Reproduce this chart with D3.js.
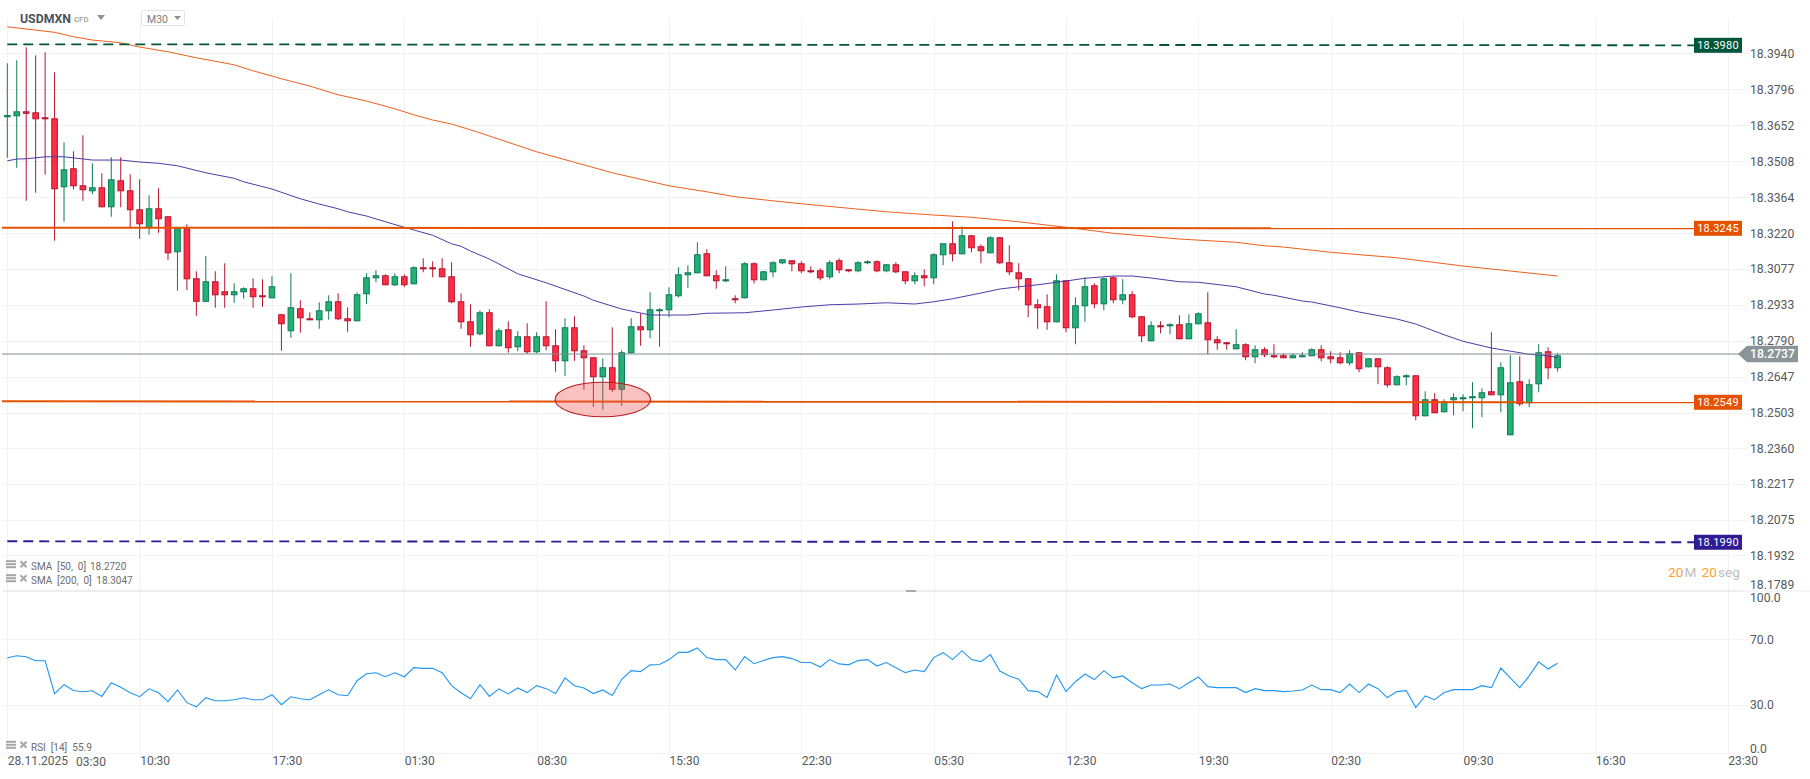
<!DOCTYPE html>
<html>
<head>
<meta charset="utf-8">
<script src="https://cdn.jsdelivr.net/npm/d3@7"></script>
<style>
  html, body { margin: 0; padding: 0; background: #fff; overflow: hidden; }
  text { font-family: Roboto, sans-serif; }
</style>
</head>
<body>
<div id="chart"></div>
<script>
// candles, M30, one entry per bar
const opens = [18.3684,18.3688,18.3708,18.3704,18.3684,18.3680,18.3404,18.3480,18.3412,18.3388,
18.3404,18.3324,18.3432,18.3392,18.3316,18.3240,18.3320,18.3288,18.3144,18.3240,
18.3040,18.2946,18.3028,18.2988,18.2972,18.2984,18.3000,18.2972,18.2960,18.2896,
18.2828,18.2920,18.2880,18.2872,18.2908,18.2948,18.2880,18.2868,18.2976,18.3040,
18.3052,18.3012,18.3048,18.3016,18.3084,18.3084,18.3080,18.3048,18.2948,18.2868,
18.2816,18.2904,18.2768,18.2836,18.2764,18.2808,18.2744,18.2808,18.2772,18.2708,
18.2844,18.2752,18.2724,18.2644,18.2684,18.2594,18.2740,18.2848,18.2832,18.2908,
18.2912,18.2968,18.3052,18.3060,18.3140,18.3052,18.3028,18.2960,18.2960,18.3100,
18.3032,18.3064,18.3100,18.3112,18.3100,18.3072,18.3072,18.3044,18.3112,18.3076,
18.3068,18.3100,18.3108,18.3068,18.3096,18.3068,18.3028,18.3052,18.3040,18.3132,
18.3180,18.3136,18.3212,18.3168,18.3140,18.3204,18.3104,18.3064,18.3040,18.2936,
18.2928,18.2864,18.3032,18.2840,18.2928,18.3012,18.2936,18.3044,18.2952,18.2976,
18.2888,18.2788,18.2852,18.2848,18.2856,18.2796,18.2856,18.2864,18.2796,18.2784,
18.2756,18.2776,18.2724,18.2756,18.2732,18.2732,18.2720,18.2724,18.2728,18.2756,
18.2728,18.2724,18.2700,18.2744,18.2684,18.2720,18.2684,18.2612,18.2644,18.2652,
18.2488,18.2556,18.2504,18.2552,18.2556,18.2560,18.2560,18.2588,18.2572,18.2412,
18.2628,18.2540,18.2616,18.2748,18.2680];
const closes = [18.3693,18.3708,18.3698,18.3676,18.3676,18.3396,18.3476,18.3408,18.3392,18.3404,
18.3324,18.3436,18.3388,18.3312,18.3256,18.3320,18.3276,18.3140,18.3240,18.3036,
18.2946,18.3028,18.2972,18.2972,18.2988,18.3000,18.2964,18.2964,18.3008,18.2856,
18.2924,18.2880,18.2872,18.2912,18.2948,18.2876,18.2868,18.2976,18.3044,18.3052,
18.3012,18.3048,18.3012,18.3084,18.3076,18.3076,18.3044,18.2944,18.2864,18.2812,
18.2904,18.2768,18.2832,18.2760,18.2808,18.2744,18.2808,18.2768,18.2708,18.2844,
18.2748,18.2720,18.2644,18.2684,18.2594,18.2744,18.2848,18.2832,18.2916,18.2916,
18.2976,18.3056,18.3064,18.3136,18.3048,18.3028,18.3036,18.2952,18.3100,18.3032,
18.3068,18.3104,18.3116,18.3096,18.3068,18.3064,18.3040,18.3104,18.3072,18.3068,
18.3104,18.3108,18.3068,18.3096,18.3064,18.3028,18.3052,18.3040,18.3136,18.3180,
18.3136,18.3212,18.3160,18.3148,18.3204,18.3100,18.3064,18.3036,18.2932,18.2920,
18.2864,18.3032,18.2840,18.2932,18.3008,18.2936,18.3040,18.2952,18.2976,18.2884,
18.2808,18.2852,18.2844,18.2856,18.2796,18.2860,18.2900,18.2792,18.2780,18.2776,
18.2776,18.2724,18.2756,18.2732,18.2726,18.2720,18.2732,18.2732,18.2756,18.2720,
18.2716,18.2700,18.2740,18.2676,18.2720,18.2684,18.2612,18.2648,18.2652,18.2488,
18.2556,18.2500,18.2548,18.2564,18.2564,18.2568,18.2584,18.2572,18.2684,18.2624,
18.2536,18.2616,18.2744,18.2680,18.2732];
const highs = [18.3900,18.3912,18.3964,18.3932,18.3944,18.3864,18.3584,18.3548,18.3612,18.3500,
18.3460,18.3524,18.3524,18.3456,18.3436,18.3372,18.3400,18.3288,18.3240,18.3256,
18.3068,18.3129,18.3068,18.3100,18.3020,18.3004,18.3040,18.3036,18.3048,18.2896,
18.3060,18.2952,18.2904,18.2944,18.2972,18.2980,18.2924,18.2984,18.3060,18.3072,
18.3056,18.3060,18.3056,18.3088,18.3120,18.3108,18.3120,18.3104,18.2980,18.2936,
18.2912,18.2916,18.2840,18.2868,18.2828,18.2860,18.2824,18.2948,18.2836,18.2880,
18.2888,18.2772,18.2724,18.2720,18.2844,18.2752,18.2880,18.2900,18.2984,18.2920,
18.3004,18.3084,18.3092,18.3184,18.3156,18.3072,18.3088,18.2972,18.3104,18.3104,
18.3068,18.3108,18.3116,18.3112,18.3108,18.3088,18.3080,18.3112,18.3120,18.3076,
18.3108,18.3112,18.3112,18.3096,18.3104,18.3068,18.3064,18.3076,18.3140,18.3180,
18.3268,18.3248,18.3212,18.3176,18.3208,18.3204,18.3172,18.3100,18.3040,18.2956,
18.2976,18.3056,18.3032,18.2964,18.3044,18.3020,18.3044,18.3048,18.3036,18.2988,
18.2888,18.2868,18.2868,18.2860,18.2892,18.2896,18.2904,18.2984,18.2808,18.2784,
18.2836,18.2780,18.2772,18.2764,18.2776,18.2740,18.2740,18.2744,18.2760,18.2772,
18.2748,18.2744,18.2752,18.2744,18.2720,18.2720,18.2688,18.2652,18.2656,18.2652,
18.2588,18.2580,18.2556,18.2580,18.2576,18.2624,18.2600,18.2824,18.2704,18.2732,
18.2728,18.2636,18.2776,18.2764,18.2740];
const lows = [18.3522,18.3482,18.3350,18.3382,18.3454,18.3190,18.3266,18.3396,18.3350,18.3376,
18.3324,18.3286,18.3324,18.3240,18.3198,18.3214,18.3222,18.3113,18.2990,18.2993,
18.2890,18.2946,18.2922,18.2922,18.2942,18.2958,18.2922,18.2926,18.2960,18.2750,
18.2802,18.2822,18.2872,18.2838,18.2874,18.2872,18.2826,18.2868,18.2938,18.3024,
18.3012,18.3008,18.3004,18.3016,18.3064,18.3044,18.3044,18.2940,18.2838,18.2766,
18.2812,18.2768,18.2768,18.2742,18.2748,18.2738,18.2740,18.2752,18.2666,18.2650,
18.2710,18.2594,18.2526,18.2514,18.2586,18.2530,18.2740,18.2770,18.2800,18.2766,
18.2884,18.2964,18.3002,18.3060,18.3048,18.2998,18.3024,18.2940,18.2960,18.3020,
18.3032,18.3044,18.3096,18.3068,18.3060,18.3060,18.3032,18.3036,18.3060,18.3064,
18.3064,18.3096,18.3064,18.3064,18.3060,18.3016,18.3016,18.3008,18.3016,18.3092,
18.3108,18.3136,18.3144,18.3100,18.3140,18.3096,18.3052,18.2992,18.2884,18.2838,
18.2834,18.2864,18.2824,18.2776,18.2866,18.2920,18.2912,18.2940,18.2936,18.2880,
18.2784,18.2788,18.2820,18.2816,18.2796,18.2796,18.2856,18.2736,18.2754,18.2754,
18.2756,18.2712,18.2700,18.2724,18.2720,18.2720,18.2720,18.2724,18.2728,18.2708,
18.2700,18.2696,18.2692,18.2664,18.2684,18.2616,18.2604,18.2612,18.2612,18.2472,
18.2488,18.2500,18.2504,18.2492,18.2508,18.2440,18.2484,18.2572,18.2504,18.2412,
18.2528,18.2524,18.2584,18.2636,18.2666];

// moving averages, read at the bars where the line bends
const sma50Bars = [0,1,2,4,6,9,12,14,16,18,21,24,25,28,31,33,35,36,38,40,42,45,47,48,49,51,54,57,61,62,65,68,72,74,78,81,84,87,90,93,96,98,100,103,105,107,109,112,114,117,119,121,124,126,130,133,134,137,138,141,143,147,149,152,154,157,161,163,164];
const sma50Values = [18.3510,18.3517,18.3518,18.3526,18.3526,18.3513,18.3513,18.3505,18.3500,18.3490,18.3462,18.3440,18.3426,18.3397,18.3358,18.3337,18.3318,18.3306,18.3289,18.3266,18.3244,18.3212,18.3178,18.3168,18.3149,18.3117,18.3058,18.3022,18.2969,18.2952,18.2917,18.2893,18.2893,18.2900,18.2902,18.2913,18.2925,18.2934,18.2937,18.2942,18.2937,18.2946,18.2958,18.2981,18.2997,18.3006,18.3014,18.3029,18.3040,18.3049,18.3049,18.3041,18.3026,18.3024,18.3006,18.2977,18.2972,18.2949,18.2945,18.2922,18.2905,18.2877,18.2857,18.2814,18.2788,18.2761,18.2736,18.2730,18.2722];
const sma200Bars = [0,5,7,9,12,14,17,20,24,26,28,29,32,35,38,41,43,45,47,50,51,56,60,64,70,74,77,84,93,98,102,107,112,117,124,130,133,135,140,147,154,164];
const sma200Values = [18.4046,18.4024,18.4006,18.3993,18.3982,18.3965,18.3946,18.3922,18.3894,18.3870,18.3849,18.3838,18.3809,18.3774,18.3749,18.3718,18.3694,18.3673,18.3657,18.3622,18.3609,18.3546,18.3504,18.3462,18.3410,18.3386,18.3366,18.3338,18.3306,18.3293,18.3284,18.3266,18.3244,18.3220,18.3197,18.3184,18.3170,18.3165,18.3144,18.3122,18.3089,18.3049];

const rsiValues = [58.8,60.0,59.4,57.0,57.0,37.0,42.5,39.0,38.2,38.8,35.4,43.7,40.9,37.6,35.2,40.0,37.6,32.2,39.4,31.6,
29.1,34.6,32.8,32.8,33.4,34.6,33.4,33.4,36.4,30.4,35.2,34.0,33.4,36.4,39.4,36.4,35.8,44.9,49.1,49.7,
47.3,49.7,47.3,52.8,52.4,52.4,49.7,41.9,37.6,34.0,42.5,35.4,40.0,36.9,40.5,37.7,41.9,40.1,37.1,46.6,
41.9,40.5,37.1,39.3,35.9,45.8,51.0,50.4,54.5,54.7,57.7,62.1,62.1,64.8,58.9,57.7,57.7,51.4,59.5,55.2,
57.1,58.9,59.5,58.3,55.9,55.9,53.2,57.7,55.1,54.5,57.1,57.7,53.8,55.9,52.8,49.8,51.4,50.4,58.9,61.9,
57.7,63.1,57.7,56.5,60.7,50.8,47.8,45.8,38.9,38.3,34.7,48.4,38.3,44.3,49.0,45.6,51.0,46.6,47.8,43.7,
40.1,42.3,42.3,42.9,40.1,43.7,47.2,41.3,40.7,40.7,40.7,37.7,40.1,38.9,38.9,38.3,38.7,39.3,42.3,39.5,
39.5,37.7,42.9,37.7,42.9,40.1,34.7,38.3,38.9,28.6,35.7,33.4,37.7,39.5,39.5,39.5,41.9,40.7,52.6,46.6,
40.7,47.8,56.3,52.0,55.5];

// axes
const priceTicks = [18.3940,18.3796,18.3652,18.3508,18.3364,18.3220,18.3077,18.2933,18.2790,18.2647,18.2503,18.2360,18.2217,18.2075,18.1932,18.1789];
const rsiTicks = [70,30];
const rsiTickLabels = [100,70,30,0];
const timeBars = [0,14,28,42,56,70,84,98,112,126,140,154,168,182];
const timeLabels = ["28.11.2025","10:30","17:30","01:30","08:30","15:30","22:30","05:30","12:30","19:30","02:30","09:30","16:30","23:30"];

// drawn levels: [start price, end price, tag]
const levelNames = ["tp","upper","lower","sl"];
const levelStart = [18.3976,18.3242,18.2548,18.1988];
const levelEnd = [18.3972,18.3240,18.2544,18.1984];
const levelTags = ["18.3980","18.3245","18.2549","18.1990"];
const levelColors = ["#00563b","#e65100","#e65100","#311b92"];
const levelDash = ["10 6",null,null,"10 6"];
const lastPrice = 18.2737;

const width = 1810, height = 779;
const plotRight = 1748, plotLeft = 2, plotTop = 18, plotBottom = 753.3, tagLeft = 1694;

const svg = d3.select("#chart").append("svg")
  .attr("width", width).attr("height", height)
  .style("display", "block");

const x = d3.scaleLinear().domain([0, 182]).range([7.3, 1727.7]);
const y = d3.scaleLinear().domain([18.3940, 18.1789]).range([53.3, 591]);
const yRsi = d3.scaleLinear().domain([0, 100]).range([754.8, 589.8]);

const gridColor = "#f2f2f2", textColor = "#555b60";

// grid
const gridG = svg.append("g");
gridG.append("g")
  .attr("transform", `translate(${plotRight},0)`)
  .call(d3.axisLeft(y).tickValues(priceTicks.slice(0, -1)).tickSize(plotRight - plotLeft).tickFormat(""))
  .call(g => g.select(".domain").remove());
gridG.append("g")
  .attr("transform", `translate(${plotRight},0)`)
  .call(d3.axisLeft(yRsi).tickValues(rsiTicks).tickSize(plotRight - plotLeft).tickFormat(""))
  .call(g => g.select(".domain").remove());
gridG.append("g")
  .attr("transform", `translate(0,${plotBottom})`)
  .call(d3.axisTop(x).tickValues(timeBars).tickSize(plotBottom - plotTop).tickFormat(""))
  .call(g => g.select(".domain").remove());
gridG.selectAll("line").attr("stroke", gridColor).attr("stroke-width", 1).attr("shape-rendering", "crispEdges");
gridG.append("line").attr("x1", plotLeft).attr("x2", plotRight).attr("y1", plotBottom).attr("y2", plotBottom)
  .attr("stroke", gridColor);

// panel divider
svg.append("line").attr("x1", 3).attr("x2", 1742).attr("y1", 591).attr("y2", 591).attr("stroke", "#dcdcdc").attr("stroke-width", 1.2);
svg.append("line").attr("x1", 1742).attr("x2", width).attr("y1", 591).attr("y2", 591).attr("stroke", "#ececec").attr("stroke-width", 1.2);
svg.append("rect").attr("x", 906).attr("y", 590).attr("width", 10).attr("height", 2).attr("fill", "#a9a9a9");

// candles
const upFill = "#23b074", upLine = "#0f7a58", downFill = "#fe2e44", downLine = "#b5152f";
const bars = d3.range(opens.length);
const candle = svg.append("g").selectAll("g").data(bars).enter().append("g");
candle.append("line")
  .attr("x1", i => x(i)).attr("x2", i => x(i))
  .attr("y1", i => y(highs[i])).attr("y2", i => y(lows[i]))
  .attr("stroke", i => closes[i] >= opens[i] ? upLine : downLine)
  .attr("stroke-width", 1);
candle.append("rect")
  .attr("x", i => x(i) - 2.8)
  .attr("width", 5.6)
  .attr("y", i => y(Math.max(opens[i], closes[i])) + 0.5)
  .attr("height", i => Math.max(1, Math.abs(y(opens[i]) - y(closes[i])) - 1))
  .attr("fill", i => closes[i] >= opens[i] ? upFill : downFill)
  .attr("stroke", i => closes[i] >= opens[i] ? upLine : downLine)
  .attr("stroke-width", 1);

// SMA lines
const smaLine = d3.line().x(d => x(d[0])).y(d => y(d[1]));
svg.append("path").datum(d3.zip(sma50Bars, sma50Values)).attr("d", smaLine)
  .attr("fill", "none").attr("stroke", "#4f3aa8").attr("stroke-width", 1);
svg.append("path").datum(d3.zip(sma200Bars, sma200Values)).attr("d", smaLine)
  .attr("fill", "none").attr("stroke", "#ef5f1c").attr("stroke-width", 1);

// last price line
svg.append("line").attr("x1", plotLeft).attr("x2", 1740).attr("y1", y(lastPrice)).attr("y2", y(lastPrice))
  .attr("stroke", "#7f8b92").attr("stroke-width", 1);

// drawn levels with their tags
levelNames.forEach((name, k) => {
  svg.append("line")
    .attr("x1", levelDash[k] ? x(0) : plotLeft).attr("x2", tagLeft)
    .attr("y1", y(levelStart[k])).attr("y2", y(levelEnd[k]))
    .attr("stroke", levelColors[k]).attr("stroke-width", levelDash[k] ? 1.8 : 2)
    .attr("stroke-dasharray", levelDash[k]);
  svg.append("rect").attr("x", tagLeft).attr("y", y(levelEnd[k]) - 7.5).attr("width", 48).attr("height", 15)
    .attr("fill", levelColors[k]);
  svg.append("text").attr("x", tagLeft + 24).attr("y", y(levelEnd[k]))
    .attr("dy", "0.34em").attr("text-anchor", "middle")
    .attr("fill", "#fff").attr("font-size", 11).attr("letter-spacing", 0.25)
    .text(levelTags[k]);
});

// the circled zone
const zoneBar = 63, zonePrice = 18.2555, zoneBars = 5.05, zoneRange = 0.0069;
svg.append("ellipse")
  .attr("cx", x(zoneBar)).attr("cy", y(zonePrice))
  .attr("rx", x(zoneBars) - x(0)).attr("ry", y(zonePrice - zoneRange) - y(zonePrice))
  .attr("fill", "#ef5350").attr("fill-opacity", 0.36)
  .attr("stroke", "#b71c1c").attr("stroke-width", 1.1);

// RSI
const rsiLine = d3.line().x((d, i) => x(i)).y(d => yRsi(d));
svg.append("path").datum(rsiValues).attr("d", rsiLine)
  .attr("fill", "none").attr("stroke", "#2196f3").attr("stroke-width", 1.1);

// price axis
const priceAxis = svg.append("g").attr("transform", `translate(1750,0)`)
  .call(d3.axisRight(y).tickValues(priceTicks).tickSize(0).tickPadding(0).tickFormat(d3.format(".4f")));
priceAxis.select(".domain").remove();
priceAxis.selectAll("text").attr("font-family", "Roboto, sans-serif").attr("font-size", 12.2).attr("fill", textColor);
// the lowest label is pushed up over the panel divider
priceAxis.selectAll(".tick").filter(d => d === 18.1789).select("text").attr("y", -6);

// last price tag
svg.append("path")
  .attr("d", d3.line()([[1738, y(lastPrice)], [1747, y(lastPrice) - 8.3], [1798, y(lastPrice) - 8.3], [1798, y(lastPrice) + 8.3], [1747, y(lastPrice) + 8.3]]) + "Z")
  .attr("fill", "#8b9599");
svg.append("text").attr("x", 1750).attr("y", y(lastPrice)).attr("dy", "0.35em")
  .attr("fill", "#fff").attr("font-size", 12.2).attr("font-weight", 500).text(lastPrice.toFixed(4));

// RSI axis labels (100 and 0 sit inside the panel)
const rsiLabelY = {100: 598, 70: 640, 30: 705, 0: 748.5};
svg.append("g").selectAll("text").data(rsiTickLabels).enter().append("text")
  .attr("x", 1750).attr("y", d => rsiLabelY[d]).attr("dy", "0.35em")
  .attr("font-size", 12.2).attr("fill", textColor)
  .text(d => d.toFixed(1));

// time axis
const timeAxis = svg.append("g").attr("transform", `translate(0,${plotBottom})`)
  .call(d3.axisBottom(x).tickValues(timeBars).tickSize(0).tickPadding(3).tickFormat((d, i) => timeLabels[i]));
timeAxis.select(".domain").remove();
timeAxis.selectAll("text").attr("text-anchor", "start").attr("font-family", "Roboto, sans-serif")
  .attr("font-size", 12).attr("fill", textColor);
svg.append("text").attr("x", 76).attr("y", 766).attr("font-size", 12).attr("fill", textColor).text("03:30");

// header
svg.append("text").attr("x", 20).attr("y", 23).attr("font-size", 12.3).attr("font-weight", 700).attr("fill", "#48525c").text("USDMXN");
svg.append("text").attr("x", 74).attr("y", 22).attr("font-size", 7.8).attr("font-weight", 500).attr("fill", "#9a9a9a").text("CFD");
svg.append("path").attr("d", "M97,15 L105,15 L101,20 Z").attr("fill", "#8f8f8f");
svg.append("rect").attr("x", 141.5).attr("y", 10.5).attr("width", 43).attr("height", 15).attr("rx", 1)
  .attr("fill", "#fff").attr("stroke", "#e3e3e3");
svg.append("text").attr("x", 147).attr("y", 22.5).attr("font-size", 10.5).attr("fill", "#7c7c7c").text("M30");
svg.append("path").attr("d", "M174,16 L181,16 L177.5,20 Z").attr("fill", "#8f8f8f");

// indicator legends
const legendY = [566.7, 580.7, 747.3];
const legendName = ["SMA", "SMA", "RSI"];
const legendParams = ["[50,  0]", "[200,  0]", "[14]"];
const legendValue = ["18.2720", "18.3047", "55.9"];
const legendValueX = [90, 96.3, 72.3];
legendY.forEach((ly, k) => {
  [-5.5, -2.5, 0.5].forEach(off => {
    svg.append("rect").attr("x", 6).attr("y", ly + off - 1).attr("width", 10).attr("height", 2).attr("fill", "#a6a6a6");
  });
  svg.append("path").attr("d", `M20.5,${ly - 5.5} L26.5,${ly + 0.5} M26.5,${ly - 5.5} L20.5,${ly + 0.5}`)
    .attr("stroke", "#a6a6a6").attr("stroke-width", 2);
  const t = svg.append("g").attr("font-size", 10).attr("fill", "#6d6d6d");
  t.append("text").attr("x", 31).attr("y", ly + 3.5).text(legendName[k]);
  t.append("text").attr("x", k == 2 ? 50.7 : 57).attr("y", ly + 3.5).style("white-space", "pre").text(legendParams[k]);
  t.append("text").attr("x", legendValueX[k]).attr("y", ly + 3.5).text(legendValue[k]);
});

// candle countdown
const countdownParts = ["20", "M", "20", "seg"];
const countdownX = [1668, 1684.5, 1701.5, 1718];
const countdownFill = ["#ffa033", "#bdbdbd", "#ffa033", "#bdbdbd"];
svg.append("g").selectAll("text").data(countdownParts).enter().append("text")
  .attr("x", (d, i) => countdownX[i]).attr("y", 576.5).attr("font-size", 13.6)
  .attr("fill", (d, i) => countdownFill[i]).text(d => d);
</script>
</body>
</html>
